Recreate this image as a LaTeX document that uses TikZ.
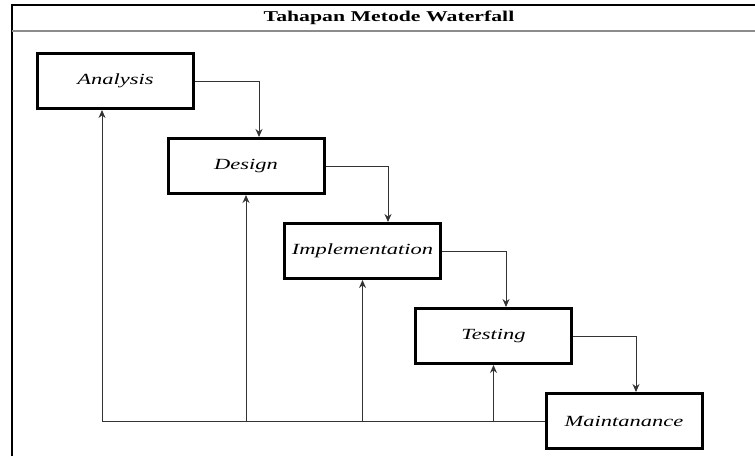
\documentclass[tikz,border=0pt]{standalone}
\usepackage{fontspec}
\setmainfont[FakeStretch=1.45]{Liberation Serif}
\usetikzlibrary{shapes, arrows, arrows.meta}
\tikzstyle{block} = [rectangle, draw=black, line width=3pt, minimum width=156pt, minimum height=55pt, font=\fontsize{15.5}{18}\selectfont\itshape]
\tikzstyle{arrow} = [draw=black!80, line width=1pt, ->, >={Stealth[length=8pt, width=7pt]}]

\begin{document}
\begin{tikzpicture}[x=1pt, y=-1pt, node distance=85pt]
        \useasboundingbox (0,0) rectangle (755,456);
        % frame
        \draw [line width=1.5pt] (12,456) -- (12,5) -- (755,5);
        \draw [black!45, line width=2.5pt] (12,31) -- (755,31);
        \node [font=\fontsize{15}{18}\selectfont\bfseries] (title) at (389,18) {Tahapan Metode Waterfall};

        % blocks
        \node [block] (analysis) at (115.5,81) {Analysis};
        \node [block, below of=analysis, xshift=130.5pt] (design) {Design};
        \node [block, below of=design, xshift=116.5pt] (implement) {Implementation};
        \node [block, below of=implement, xshift=131pt] (testing) {Testing};
        \node [block, below of=testing, xshift=130.5pt] (maint) {Maintanance};

        % arrows
        \draw [arrow] (analysis.east) -| ([xshift=13pt]design.north);
        \draw [arrow] (design.east) -| ([xshift=25.5pt]implement.north);
        \draw [arrow] (implement.east) -| ([xshift=12.5pt]testing.north);
        \draw [arrow] (testing.east) -| ([xshift=12pt]maint.north);

        % feedback
        \draw [arrow] (maint.west) -| ([xshift=-13.5pt]analysis.south);
        \draw [arrow] (design.south |- maint.west) -- (design.south);
        \draw [arrow] (implement.south |- maint.west) -- (implement.south);
        \draw [arrow] (testing.south |- maint.west) -- (testing.south);
    \end{tikzpicture}
\end{document}
